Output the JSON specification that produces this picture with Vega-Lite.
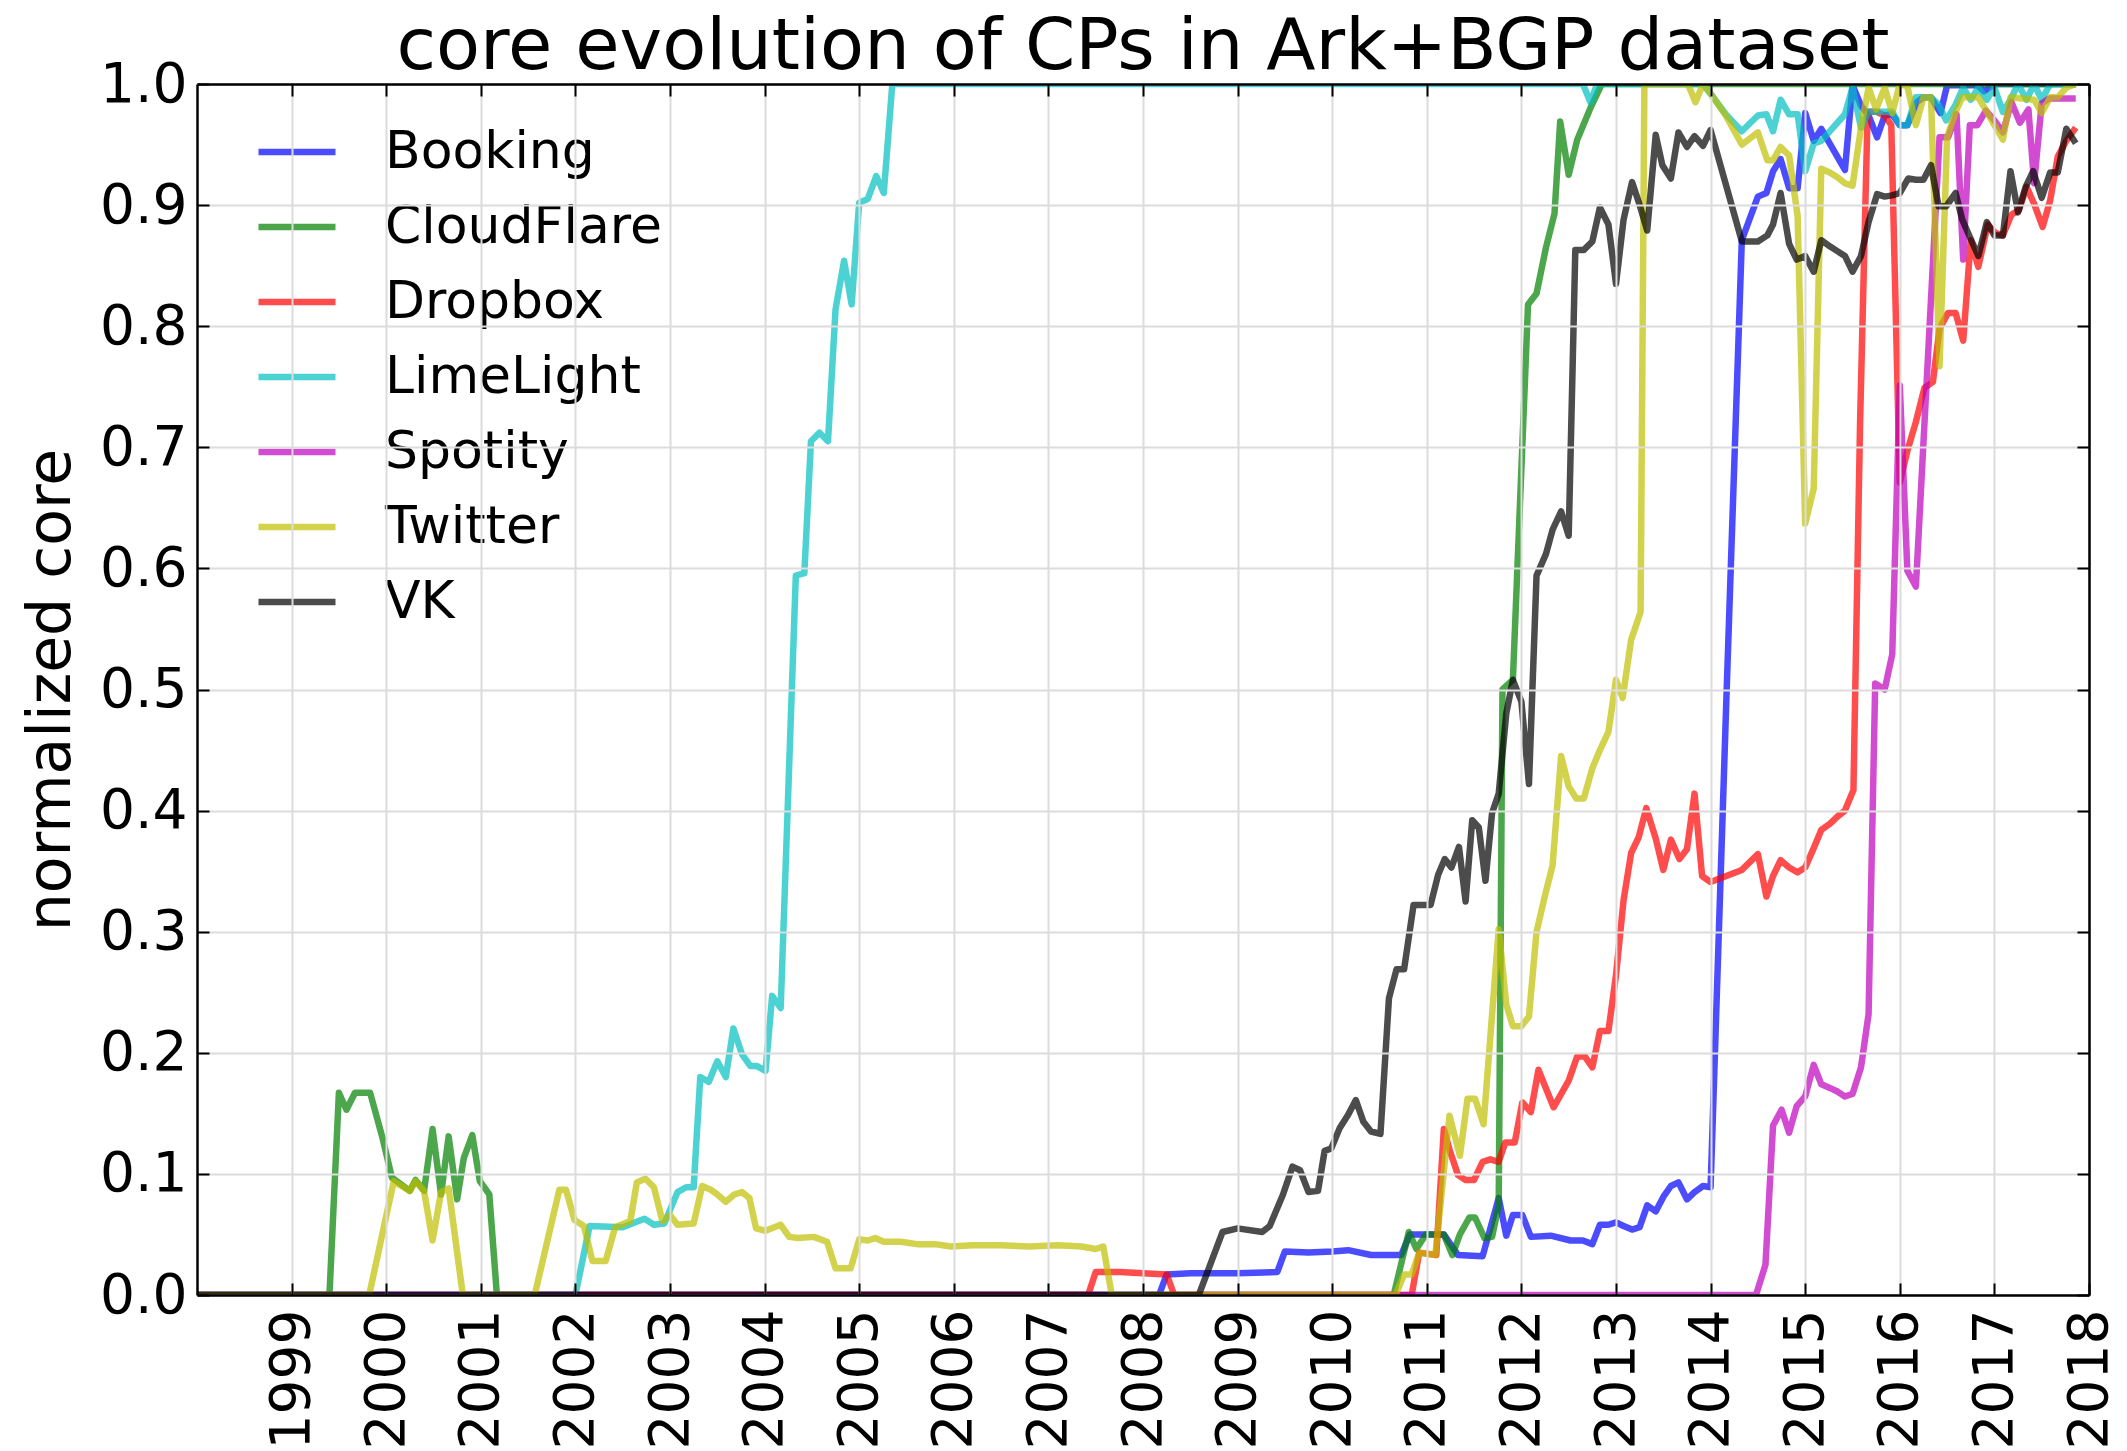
{
"$schema": "https://vega.github.io/schema/vega-lite/v6.json",
"width": 1892,
"height": 1211,
"autosize": "none",
"padding": {"left": 197, "top": 84, "right": 38, "bottom": 156},
"background": "white",
"title": {"text": "core evolution of CPs in Ark+BGP dataset", "fontSize": 72, "font": "DejaVu Sans", "fontWeight": "normal", "color": "black", "offset": 0, "dy": 27, "anchor": "middle", "frame": "group"},
"data": {"values": [
{"cp":"Booking","year":1998,"core":0},{"cp":"Booking","year":2008.17,"core":0},{"cp":"Booking","year":2008.25,"core":0.017},{"cp":"Booking","year":2008.5,"core":0.018},{"cp":"Booking","year":2008.75,"core":0.018},{"cp":"Booking","year":2009.0,"core":0.018},{"cp":"Booking","year":2009.42,"core":0.019},{"cp":"Booking","year":2009.5,"core":0.036},{"cp":"Booking","year":2009.75,"core":0.035},{"cp":"Booking","year":2010.0,"core":0.036},{"cp":"Booking","year":2010.17,"core":0.037},{"cp":"Booking","year":2010.41,"core":0.033},{"cp":"Booking","year":2010.73,"core":0.033},{"cp":"Booking","year":2010.82,"core":0.05},{"cp":"Booking","year":2011.18,"core":0.05},{"cp":"Booking","year":2011.33,"core":0.033},{"cp":"Booking","year":2011.59,"core":0.032},{"cp":"Booking","year":2011.76,"core":0.08},{"cp":"Booking","year":2011.84,"core":0.049},{"cp":"Booking","year":2011.91,"core":0.066},{"cp":"Booking","year":2012.01,"core":0.066},{"cp":"Booking","year":2012.1,"core":0.048},{"cp":"Booking","year":2012.31,"core":0.049},{"cp":"Booking","year":2012.52,"core":0.045},{"cp":"Booking","year":2012.65,"core":0.045},{"cp":"Booking","year":2012.75,"core":0.042},{"cp":"Booking","year":2012.83,"core":0.058},{"cp":"Booking","year":2012.92,"core":0.058},{"cp":"Booking","year":2013.0,"core":0.06},{"cp":"Booking","year":2013.08,"core":0.057},{"cp":"Booking","year":2013.17,"core":0.054},{"cp":"Booking","year":2013.25,"core":0.056},{"cp":"Booking","year":2013.33,"core":0.074},{"cp":"Booking","year":2013.42,"core":0.069},{"cp":"Booking","year":2013.5,"core":0.081},{"cp":"Booking","year":2013.58,"core":0.09},{"cp":"Booking","year":2013.66,"core":0.093},{"cp":"Booking","year":2013.75,"core":0.079},{"cp":"Booking","year":2013.83,"core":0.085},{"cp":"Booking","year":2013.92,"core":0.09},{"cp":"Booking","year":2014.0,"core":0.089},{"cp":"Booking","year":2014.17,"core":0.5},{"cp":"Booking","year":2014.33,"core":0.871},{"cp":"Booking","year":2014.41,"core":0.888},{"cp":"Booking","year":2014.5,"core":0.907},{"cp":"Booking","year":2014.59,"core":0.91},{"cp":"Booking","year":2014.66,"core":0.928},{"cp":"Booking","year":2014.74,"core":0.938},{"cp":"Booking","year":2014.83,"core":0.914},{"cp":"Booking","year":2014.92,"core":0.914},{"cp":"Booking","year":2015.0,"core":0.976},{"cp":"Booking","year":2015.09,"core":0.953},{"cp":"Booking","year":2015.17,"core":0.963},{"cp":"Booking","year":2015.42,"core":0.929},{"cp":"Booking","year":2015.5,"core":0.999},{"cp":"Booking","year":2015.59,"core":0.982},{"cp":"Booking","year":2015.67,"core":0.974},{"cp":"Booking","year":2015.76,"core":0.956},{"cp":"Booking","year":2015.84,"core":0.974},{"cp":"Booking","year":2015.92,"core":0.975},{"cp":"Booking","year":2016.0,"core":0.966},{"cp":"Booking","year":2016.08,"core":0.966},{"cp":"Booking","year":2016.18,"core":0.985},{"cp":"Booking","year":2016.25,"core":0.989},{"cp":"Booking","year":2016.33,"core":0.989},{"cp":"Booking","year":2016.43,"core":0.976},{"cp":"Booking","year":2016.5,"core":0.999},{"cp":"Booking","year":2016.82,"core":0.999},{"cp":"Booking","year":2016.89,"core":0.994},{"cp":"Booking","year":2017.0,"core":1.0},{"cp":"Booking","year":2017.86,"core":1.0},
{"cp":"CloudFlare","year":1998,"core":0},{"cp":"CloudFlare","year":1999.4,"core":0},{"cp":"CloudFlare","year":1999.5,"core":0.167},{"cp":"CloudFlare","year":1999.58,"core":0.153},{"cp":"CloudFlare","year":1999.67,"core":0.167},{"cp":"CloudFlare","year":1999.83,"core":0.167},{"cp":"CloudFlare","year":1999.96,"core":0.13},{"cp":"CloudFlare","year":2000.06,"core":0.097},{"cp":"CloudFlare","year":2000.25,"core":0.086},{"cp":"CloudFlare","year":2000.31,"core":0.095},{"cp":"CloudFlare","year":2000.4,"core":0.086},{"cp":"CloudFlare","year":2000.49,"core":0.137},{"cp":"CloudFlare","year":2000.58,"core":0.083},{"cp":"CloudFlare","year":2000.66,"core":0.131},{"cp":"CloudFlare","year":2000.75,"core":0.079},{"cp":"CloudFlare","year":2000.82,"core":0.113},{"cp":"CloudFlare","year":2000.91,"core":0.132},{"cp":"CloudFlare","year":2000.99,"core":0.094},{"cp":"CloudFlare","year":2001.09,"core":0.083},{"cp":"CloudFlare","year":2001.17,"core":0},{"cp":"CloudFlare","year":2010.65,"core":0},{"cp":"CloudFlare","year":2010.81,"core":0.052},{"cp":"CloudFlare","year":2010.89,"core":0.038},{"cp":"CloudFlare","year":2010.99,"core":0.05},{"cp":"CloudFlare","year":2011.18,"core":0.05},{"cp":"CloudFlare","year":2011.27,"core":0.033},{"cp":"CloudFlare","year":2011.35,"core":0.05},{"cp":"CloudFlare","year":2011.45,"core":0.064},{"cp":"CloudFlare","year":2011.51,"core":0.064},{"cp":"CloudFlare","year":2011.61,"core":0.047},{"cp":"CloudFlare","year":2011.69,"core":0.048},{"cp":"CloudFlare","year":2011.76,"core":0.074},{"cp":"CloudFlare","year":2011.8,"core":0.5},{"cp":"CloudFlare","year":2011.91,"core":0.508},{"cp":"CloudFlare","year":2012.07,"core":0.818},{"cp":"CloudFlare","year":2012.16,"core":0.827},{"cp":"CloudFlare","year":2012.26,"core":0.865},{"cp":"CloudFlare","year":2012.35,"core":0.893},{"cp":"CloudFlare","year":2012.41,"core":0.969},{"cp":"CloudFlare","year":2012.5,"core":0.925},{"cp":"CloudFlare","year":2012.59,"core":0.954},{"cp":"CloudFlare","year":2012.74,"core":0.982},{"cp":"CloudFlare","year":2012.85,"core":1.0},{"cp":"CloudFlare","year":2017.86,"core":1.0},
{"cp":"Dropbox","year":1998,"core":0},{"cp":"Dropbox","year":2007.42,"core":0},{"cp":"Dropbox","year":2007.5,"core":0.019},{"cp":"Dropbox","year":2007.75,"core":0.019},{"cp":"Dropbox","year":2008.0,"core":0.018},{"cp":"Dropbox","year":2008.25,"core":0.017},{"cp":"Dropbox","year":2008.33,"core":0},{"cp":"Dropbox","year":2010.84,"core":0},{"cp":"Dropbox","year":2010.92,"core":0.035},{"cp":"Dropbox","year":2011.1,"core":0.033},{"cp":"Dropbox","year":2011.18,"core":0.137},{"cp":"Dropbox","year":2011.24,"core":0.12},{"cp":"Dropbox","year":2011.33,"core":0.099},{"cp":"Dropbox","year":2011.41,"core":0.095},{"cp":"Dropbox","year":2011.5,"core":0.095},{"cp":"Dropbox","year":2011.59,"core":0.11},{"cp":"Dropbox","year":2011.67,"core":0.112},{"cp":"Dropbox","year":2011.76,"core":0.11},{"cp":"Dropbox","year":2011.83,"core":0.126},{"cp":"Dropbox","year":2011.93,"core":0.126},{"cp":"Dropbox","year":2012.01,"core":0.159},{"cp":"Dropbox","year":2012.1,"core":0.151},{"cp":"Dropbox","year":2012.18,"core":0.186},{"cp":"Dropbox","year":2012.34,"core":0.155},{"cp":"Dropbox","year":2012.5,"core":0.177},{"cp":"Dropbox","year":2012.59,"core":0.197},{"cp":"Dropbox","year":2012.67,"core":0.197},{"cp":"Dropbox","year":2012.75,"core":0.188},{"cp":"Dropbox","year":2012.83,"core":0.218},{"cp":"Dropbox","year":2012.92,"core":0.218},{"cp":"Dropbox","year":2013.0,"core":0.264},{"cp":"Dropbox","year":2013.08,"core":0.326},{"cp":"Dropbox","year":2013.16,"core":0.365},{"cp":"Dropbox","year":2013.24,"core":0.378},{"cp":"Dropbox","year":2013.32,"core":0.402},{"cp":"Dropbox","year":2013.42,"core":0.377},{"cp":"Dropbox","year":2013.5,"core":0.351},{"cp":"Dropbox","year":2013.58,"core":0.376},{"cp":"Dropbox","year":2013.67,"core":0.36},{"cp":"Dropbox","year":2013.75,"core":0.368},{"cp":"Dropbox","year":2013.83,"core":0.414},{"cp":"Dropbox","year":2013.91,"core":0.346},{"cp":"Dropbox","year":2014.0,"core":0.341},{"cp":"Dropbox","year":2014.33,"core":0.351},{"cp":"Dropbox","year":2014.5,"core":0.364},{"cp":"Dropbox","year":2014.59,"core":0.329},{"cp":"Dropbox","year":2014.66,"core":0.346},{"cp":"Dropbox","year":2014.74,"core":0.359},{"cp":"Dropbox","year":2014.83,"core":0.353},{"cp":"Dropbox","year":2014.92,"core":0.349},{"cp":"Dropbox","year":2015.0,"core":0.353},{"cp":"Dropbox","year":2015.09,"core":0.369},{"cp":"Dropbox","year":2015.17,"core":0.384},{"cp":"Dropbox","year":2015.26,"core":0.389},{"cp":"Dropbox","year":2015.34,"core":0.395},{"cp":"Dropbox","year":2015.42,"core":0.4},{"cp":"Dropbox","year":2015.51,"core":0.417},{"cp":"Dropbox","year":2015.58,"core":0.72},{"cp":"Dropbox","year":2015.66,"core":0.977},{"cp":"Dropbox","year":2015.75,"core":0.977},{"cp":"Dropbox","year":2015.84,"core":0.974},{"cp":"Dropbox","year":2015.91,"core":0.966},{"cp":"Dropbox","year":2016.0,"core":0.671},{"cp":"Dropbox","year":2016.08,"core":0.697},{"cp":"Dropbox","year":2016.17,"core":0.721},{"cp":"Dropbox","year":2016.26,"core":0.749},{"cp":"Dropbox","year":2016.35,"core":0.754},{"cp":"Dropbox","year":2016.42,"core":0.798},{"cp":"Dropbox","year":2016.51,"core":0.811},{"cp":"Dropbox","year":2016.59,"core":0.811},{"cp":"Dropbox","year":2016.67,"core":0.788},{"cp":"Dropbox","year":2016.75,"core":0.871},{"cp":"Dropbox","year":2016.83,"core":0.849},{"cp":"Dropbox","year":2016.93,"core":0.884},{"cp":"Dropbox","year":2017.01,"core":0.877},{"cp":"Dropbox","year":2017.09,"core":0.875},{"cp":"Dropbox","year":2017.18,"core":0.892},{"cp":"Dropbox","year":2017.26,"core":0.896},{"cp":"Dropbox","year":2017.34,"core":0.915},{"cp":"Dropbox","year":2017.42,"core":0.901},{"cp":"Dropbox","year":2017.51,"core":0.882},{"cp":"Dropbox","year":2017.59,"core":0.904},{"cp":"Dropbox","year":2017.67,"core":0.94},{"cp":"Dropbox","year":2017.76,"core":0.953},{"cp":"Dropbox","year":2017.86,"core":0.964},
{"cp":"LimeLight","year":1998,"core":0},{"cp":"LimeLight","year":2002.0,"core":0},{"cp":"LimeLight","year":2002.15,"core":0.057},{"cp":"LimeLight","year":2002.5,"core":0.056},{"cp":"LimeLight","year":2002.73,"core":0.063},{"cp":"LimeLight","year":2002.83,"core":0.058},{"cp":"LimeLight","year":2002.94,"core":0.059},{"cp":"LimeLight","year":2003.08,"core":0.085},{"cp":"LimeLight","year":2003.17,"core":0.089},{"cp":"LimeLight","year":2003.25,"core":0.089},{"cp":"LimeLight","year":2003.32,"core":0.18},{"cp":"LimeLight","year":2003.41,"core":0.176},{"cp":"LimeLight","year":2003.5,"core":0.193},{"cp":"LimeLight","year":2003.59,"core":0.18},{"cp":"LimeLight","year":2003.67,"core":0.22},{"cp":"LimeLight","year":2003.76,"core":0.199},{"cp":"LimeLight","year":2003.85,"core":0.189},{"cp":"LimeLight","year":2003.92,"core":0.189},{"cp":"LimeLight","year":2004.01,"core":0.185},{"cp":"LimeLight","year":2004.08,"core":0.247},{"cp":"LimeLight","year":2004.17,"core":0.237},{"cp":"LimeLight","year":2004.33,"core":0.594},{"cp":"LimeLight","year":2004.42,"core":0.596},{"cp":"LimeLight","year":2004.49,"core":0.705},{"cp":"LimeLight","year":2004.58,"core":0.712},{"cp":"LimeLight","year":2004.67,"core":0.705},{"cp":"LimeLight","year":2004.75,"core":0.814},{"cp":"LimeLight","year":2004.84,"core":0.854},{"cp":"LimeLight","year":2004.92,"core":0.818},{"cp":"LimeLight","year":2005.0,"core":0.902},{"cp":"LimeLight","year":2005.09,"core":0.905},{"cp":"LimeLight","year":2005.18,"core":0.924},{"cp":"LimeLight","year":2005.26,"core":0.91},{"cp":"LimeLight","year":2005.35,"core":1.0},{"cp":"LimeLight","year":2012.65,"core":1.0},{"cp":"LimeLight","year":2012.73,"core":0.985},{"cp":"LimeLight","year":2012.8,"core":1.0},{"cp":"LimeLight","year":2013.92,"core":1.0},{"cp":"LimeLight","year":2014.0,"core":0.992},{"cp":"LimeLight","year":2014.16,"core":0.975},{"cp":"LimeLight","year":2014.33,"core":0.961},{"cp":"LimeLight","year":2014.5,"core":0.974},{"cp":"LimeLight","year":2014.59,"core":0.975},{"cp":"LimeLight","year":2014.66,"core":0.961},{"cp":"LimeLight","year":2014.74,"core":0.987},{"cp":"LimeLight","year":2014.83,"core":0.975},{"cp":"LimeLight","year":2014.92,"core":0.975},{"cp":"LimeLight","year":2015.0,"core":0.928},{"cp":"LimeLight","year":2015.09,"core":0.951},{"cp":"LimeLight","year":2015.17,"core":0.953},{"cp":"LimeLight","year":2015.42,"core":0.975},{"cp":"LimeLight","year":2015.5,"core":0.997},{"cp":"LimeLight","year":2015.59,"core":0.964},{"cp":"LimeLight","year":2015.67,"core":0.977},{"cp":"LimeLight","year":2015.92,"core":0.977},{"cp":"LimeLight","year":2016.0,"core":0.966},{"cp":"LimeLight","year":2016.08,"core":0.966},{"cp":"LimeLight","year":2016.17,"core":0.989},{"cp":"LimeLight","year":2016.33,"core":0.989},{"cp":"LimeLight","year":2016.41,"core":0.983},{"cp":"LimeLight","year":2016.49,"core":0.97},{"cp":"LimeLight","year":2016.59,"core":0.983},{"cp":"LimeLight","year":2016.67,"core":0.997},{"cp":"LimeLight","year":2016.75,"core":0.987},{"cp":"LimeLight","year":2016.83,"core":0.997},{"cp":"LimeLight","year":2016.92,"core":0.987},{"cp":"LimeLight","year":2017.0,"core":0.997},{"cp":"LimeLight","year":2017.09,"core":0.977},{"cp":"LimeLight","year":2017.17,"core":0.987},{"cp":"LimeLight","year":2017.25,"core":1.0},{"cp":"LimeLight","year":2017.34,"core":0.987},{"cp":"LimeLight","year":2017.42,"core":1.0},{"cp":"LimeLight","year":2017.5,"core":0.987},{"cp":"LimeLight","year":2017.59,"core":1.0},{"cp":"LimeLight","year":2017.86,"core":1.0},
{"cp":"Spotity","year":1998,"core":0},{"cp":"Spotity","year":2014.48,"core":0},{"cp":"Spotity","year":2014.58,"core":0.025},{"cp":"Spotity","year":2014.66,"core":0.14},{"cp":"Spotity","year":2014.75,"core":0.153},{"cp":"Spotity","year":2014.83,"core":0.134},{"cp":"Spotity","year":2014.91,"core":0.156},{"cp":"Spotity","year":2015.0,"core":0.164},{"cp":"Spotity","year":2015.09,"core":0.19},{"cp":"Spotity","year":2015.17,"core":0.174},{"cp":"Spotity","year":2015.26,"core":0.171},{"cp":"Spotity","year":2015.34,"core":0.168},{"cp":"Spotity","year":2015.42,"core":0.164},{"cp":"Spotity","year":2015.5,"core":0.166},{"cp":"Spotity","year":2015.59,"core":0.188},{"cp":"Spotity","year":2015.67,"core":0.232},{"cp":"Spotity","year":2015.74,"core":0.505},{"cp":"Spotity","year":2015.84,"core":0.5},{"cp":"Spotity","year":2015.92,"core":0.529},{"cp":"Spotity","year":2016.0,"core":0.751},{"cp":"Spotity","year":2016.08,"core":0.598},{"cp":"Spotity","year":2016.17,"core":0.585},{"cp":"Spotity","year":2016.42,"core":0.956},{"cp":"Spotity","year":2016.51,"core":0.956},{"cp":"Spotity","year":2016.6,"core":0.975},{"cp":"Spotity","year":2016.67,"core":0.855},{"cp":"Spotity","year":2016.74,"core":0.966},{"cp":"Spotity","year":2016.82,"core":0.966},{"cp":"Spotity","year":2016.91,"core":0.978},{"cp":"Spotity","year":2017.0,"core":0.97},{"cp":"Spotity","year":2017.09,"core":0.96},{"cp":"Spotity","year":2017.18,"core":0.985},{"cp":"Spotity","year":2017.27,"core":0.968},{"cp":"Spotity","year":2017.36,"core":0.979},{"cp":"Spotity","year":2017.42,"core":0.918},{"cp":"Spotity","year":2017.5,"core":0.984},{"cp":"Spotity","year":2017.58,"core":0.988},{"cp":"Spotity","year":2017.86,"core":0.988},
{"cp":"Twitter","year":1998,"core":0},{"cp":"Twitter","year":1999.82,"core":0},{"cp":"Twitter","year":2000.08,"core":0.094},{"cp":"Twitter","year":2000.25,"core":0.086},{"cp":"Twitter","year":2000.31,"core":0.094},{"cp":"Twitter","year":2000.4,"core":0.086},{"cp":"Twitter","year":2000.49,"core":0.045},{"cp":"Twitter","year":2000.58,"core":0.085},{"cp":"Twitter","year":2000.66,"core":0.088},{"cp":"Twitter","year":2000.81,"core":0},{"cp":"Twitter","year":2001.57,"core":0},{"cp":"Twitter","year":2001.83,"core":0.087},{"cp":"Twitter","year":2001.9,"core":0.087},{"cp":"Twitter","year":2001.99,"core":0.062},{"cp":"Twitter","year":2002.09,"core":0.057},{"cp":"Twitter","year":2002.18,"core":0.028},{"cp":"Twitter","year":2002.32,"core":0.028},{"cp":"Twitter","year":2002.42,"core":0.056},{"cp":"Twitter","year":2002.58,"core":0.061},{"cp":"Twitter","year":2002.65,"core":0.093},{"cp":"Twitter","year":2002.74,"core":0.096},{"cp":"Twitter","year":2002.83,"core":0.089},{"cp":"Twitter","year":2002.92,"core":0.061},{"cp":"Twitter","year":2003.0,"core":0.066},{"cp":"Twitter","year":2003.08,"core":0.058},{"cp":"Twitter","year":2003.25,"core":0.059},{"cp":"Twitter","year":2003.34,"core":0.09},{"cp":"Twitter","year":2003.43,"core":0.087},{"cp":"Twitter","year":2003.5,"core":0.083},{"cp":"Twitter","year":2003.59,"core":0.077},{"cp":"Twitter","year":2003.68,"core":0.083},{"cp":"Twitter","year":2003.76,"core":0.085},{"cp":"Twitter","year":2003.84,"core":0.08},{"cp":"Twitter","year":2003.91,"core":0.055},{"cp":"Twitter","year":2004.01,"core":0.053},{"cp":"Twitter","year":2004.17,"core":0.058},{"cp":"Twitter","year":2004.26,"core":0.048},{"cp":"Twitter","year":2004.35,"core":0.047},{"cp":"Twitter","year":2004.52,"core":0.048},{"cp":"Twitter","year":2004.66,"core":0.044},{"cp":"Twitter","year":2004.75,"core":0.022},{"cp":"Twitter","year":2004.91,"core":0.022},{"cp":"Twitter","year":2005.0,"core":0.046},{"cp":"Twitter","year":2005.09,"core":0.045},{"cp":"Twitter","year":2005.17,"core":0.047},{"cp":"Twitter","year":2005.26,"core":0.044},{"cp":"Twitter","year":2005.44,"core":0.044},{"cp":"Twitter","year":2005.61,"core":0.042},{"cp":"Twitter","year":2005.8,"core":0.042},{"cp":"Twitter","year":2005.97,"core":0.04},{"cp":"Twitter","year":2006.2,"core":0.041},{"cp":"Twitter","year":2006.5,"core":0.041},{"cp":"Twitter","year":2006.8,"core":0.04},{"cp":"Twitter","year":2007.1,"core":0.041},{"cp":"Twitter","year":2007.35,"core":0.04},{"cp":"Twitter","year":2007.5,"core":0.038},{"cp":"Twitter","year":2007.58,"core":0.04},{"cp":"Twitter","year":2007.67,"core":0},{"cp":"Twitter","year":2010.67,"core":0},{"cp":"Twitter","year":2010.76,"core":0.017},{"cp":"Twitter","year":2010.84,"core":0.017},{"cp":"Twitter","year":2010.92,"core":0.035},{"cp":"Twitter","year":2011.09,"core":0.033},{"cp":"Twitter","year":2011.24,"core":0.148},{"cp":"Twitter","year":2011.35,"core":0.115},{"cp":"Twitter","year":2011.43,"core":0.162},{"cp":"Twitter","year":2011.51,"core":0.162},{"cp":"Twitter","year":2011.6,"core":0.141},{"cp":"Twitter","year":2011.76,"core":0.302},{"cp":"Twitter","year":2011.84,"core":0.24},{"cp":"Twitter","year":2011.91,"core":0.222},{"cp":"Twitter","year":2012.0,"core":0.222},{"cp":"Twitter","year":2012.08,"core":0.23},{"cp":"Twitter","year":2012.16,"core":0.3},{"cp":"Twitter","year":2012.25,"core":0.33},{"cp":"Twitter","year":2012.33,"core":0.355},{"cp":"Twitter","year":2012.42,"core":0.445},{"cp":"Twitter","year":2012.5,"core":0.42},{"cp":"Twitter","year":2012.58,"core":0.41},{"cp":"Twitter","year":2012.66,"core":0.41},{"cp":"Twitter","year":2012.75,"core":0.435},{"cp":"Twitter","year":2012.83,"core":0.45},{"cp":"Twitter","year":2012.92,"core":0.465},{"cp":"Twitter","year":2013.0,"core":0.508},{"cp":"Twitter","year":2013.07,"core":0.493},{"cp":"Twitter","year":2013.16,"core":0.541},{"cp":"Twitter","year":2013.26,"core":0.564},{"cp":"Twitter","year":2013.3,"core":1.0},{"cp":"Twitter","year":2013.76,"core":1.0},{"cp":"Twitter","year":2013.84,"core":0.985},{"cp":"Twitter","year":2013.92,"core":1.0},{"cp":"Twitter","year":2014.0,"core":0.992},{"cp":"Twitter","year":2014.16,"core":0.974},{"cp":"Twitter","year":2014.33,"core":0.95},{"cp":"Twitter","year":2014.5,"core":0.96},{"cp":"Twitter","year":2014.6,"core":0.937},{"cp":"Twitter","year":2014.66,"core":0.937},{"cp":"Twitter","year":2014.74,"core":0.948},{"cp":"Twitter","year":2014.83,"core":0.941},{"cp":"Twitter","year":2014.92,"core":0.891},{"cp":"Twitter","year":2015.0,"core":0.637},{"cp":"Twitter","year":2015.09,"core":0.666},{"cp":"Twitter","year":2015.17,"core":0.93},{"cp":"Twitter","year":2015.26,"core":0.927},{"cp":"Twitter","year":2015.34,"core":0.923},{"cp":"Twitter","year":2015.42,"core":0.918},{"cp":"Twitter","year":2015.5,"core":0.916},{"cp":"Twitter","year":2015.59,"core":0.964},{"cp":"Twitter","year":2015.67,"core":0.997},{"cp":"Twitter","year":2015.75,"core":0.979},{"cp":"Twitter","year":2015.84,"core":0.997},{"cp":"Twitter","year":2015.92,"core":0.976},{"cp":"Twitter","year":2016.0,"core":1.0},{"cp":"Twitter","year":2016.08,"core":0.998},{"cp":"Twitter","year":2016.17,"core":0.966},{"cp":"Twitter","year":2016.25,"core":0.989},{"cp":"Twitter","year":2016.33,"core":0.989},{"cp":"Twitter","year":2016.42,"core":0.767},{"cp":"Twitter","year":2016.5,"core":0.956},{"cp":"Twitter","year":2016.59,"core":0.977},{"cp":"Twitter","year":2016.66,"core":0.989},{"cp":"Twitter","year":2016.83,"core":0.989},{"cp":"Twitter","year":2016.92,"core":0.977},{"cp":"Twitter","year":2017.0,"core":0.966},{"cp":"Twitter","year":2017.09,"core":0.954},{"cp":"Twitter","year":2017.17,"core":0.989},{"cp":"Twitter","year":2017.42,"core":0.987},{"cp":"Twitter","year":2017.5,"core":0.976},{"cp":"Twitter","year":2017.59,"core":0.989},{"cp":"Twitter","year":2017.67,"core":0.989},{"cp":"Twitter","year":2017.76,"core":0.997},{"cp":"Twitter","year":2017.86,"core":1.0},
{"cp":"VK","year":1998,"core":0},{"cp":"VK","year":2008.59,"core":0},{"cp":"VK","year":2008.84,"core":0.052},{"cp":"VK","year":2009.0,"core":0.055},{"cp":"VK","year":2009.26,"core":0.052},{"cp":"VK","year":2009.34,"core":0.057},{"cp":"VK","year":2009.48,"core":0.083},{"cp":"VK","year":2009.58,"core":0.106},{"cp":"VK","year":2009.66,"core":0.103},{"cp":"VK","year":2009.75,"core":0.085},{"cp":"VK","year":2009.85,"core":0.086},{"cp":"VK","year":2009.92,"core":0.119},{"cp":"VK","year":2009.99,"core":0.121},{"cp":"VK","year":2010.08,"core":0.138},{"cp":"VK","year":2010.17,"core":0.149},{"cp":"VK","year":2010.25,"core":0.161},{"cp":"VK","year":2010.33,"core":0.143},{"cp":"VK","year":2010.41,"core":0.135},{"cp":"VK","year":2010.51,"core":0.133},{"cp":"VK","year":2010.6,"core":0.245},{"cp":"VK","year":2010.68,"core":0.269},{"cp":"VK","year":2010.76,"core":0.269},{"cp":"VK","year":2010.86,"core":0.322},{"cp":"VK","year":2010.96,"core":0.322},{"cp":"VK","year":2011.04,"core":0.322},{"cp":"VK","year":2011.12,"core":0.347},{"cp":"VK","year":2011.19,"core":0.36},{"cp":"VK","year":2011.26,"core":0.353},{"cp":"VK","year":2011.34,"core":0.37},{"cp":"VK","year":2011.41,"core":0.325},{"cp":"VK","year":2011.48,"core":0.392},{"cp":"VK","year":2011.55,"core":0.386},{"cp":"VK","year":2011.62,"core":0.342},{"cp":"VK","year":2011.69,"core":0.398},{"cp":"VK","year":2011.76,"core":0.414},{"cp":"VK","year":2011.84,"core":0.48},{"cp":"VK","year":2011.91,"core":0.508},{"cp":"VK","year":2012.0,"core":0.49},{"cp":"VK","year":2012.08,"core":0.422},{"cp":"VK","year":2012.16,"core":0.594},{"cp":"VK","year":2012.26,"core":0.612},{"cp":"VK","year":2012.33,"core":0.632},{"cp":"VK","year":2012.42,"core":0.647},{"cp":"VK","year":2012.5,"core":0.627},{"cp":"VK","year":2012.57,"core":0.863},{"cp":"VK","year":2012.66,"core":0.863},{"cp":"VK","year":2012.75,"core":0.87},{"cp":"VK","year":2012.83,"core":0.898},{"cp":"VK","year":2012.92,"core":0.884},{"cp":"VK","year":2013.0,"core":0.835},{"cp":"VK","year":2013.08,"core":0.888},{"cp":"VK","year":2013.17,"core":0.919},{"cp":"VK","year":2013.25,"core":0.9},{"cp":"VK","year":2013.33,"core":0.879},{"cp":"VK","year":2013.42,"core":0.958},{"cp":"VK","year":2013.49,"core":0.933},{"cp":"VK","year":2013.58,"core":0.922},{"cp":"VK","year":2013.66,"core":0.96},{"cp":"VK","year":2013.75,"core":0.948},{"cp":"VK","year":2013.83,"core":0.957},{"cp":"VK","year":2013.92,"core":0.949},{"cp":"VK","year":2014.0,"core":0.962},{"cp":"VK","year":2014.33,"core":0.87},{"cp":"VK","year":2014.5,"core":0.87},{"cp":"VK","year":2014.6,"core":0.875},{"cp":"VK","year":2014.66,"core":0.884},{"cp":"VK","year":2014.74,"core":0.91},{"cp":"VK","year":2014.83,"core":0.868},{"cp":"VK","year":2014.91,"core":0.855},{"cp":"VK","year":2015.0,"core":0.858},{"cp":"VK","year":2015.09,"core":0.845},{"cp":"VK","year":2015.17,"core":0.871},{"cp":"VK","year":2015.26,"core":0.866},{"cp":"VK","year":2015.34,"core":0.862},{"cp":"VK","year":2015.42,"core":0.858},{"cp":"VK","year":2015.5,"core":0.845},{"cp":"VK","year":2015.59,"core":0.858},{"cp":"VK","year":2015.67,"core":0.886},{"cp":"VK","year":2015.76,"core":0.909},{"cp":"VK","year":2015.84,"core":0.907},{"cp":"VK","year":2015.92,"core":0.908},{"cp":"VK","year":2016.0,"core":0.91},{"cp":"VK","year":2016.09,"core":0.922},{"cp":"VK","year":2016.17,"core":0.921},{"cp":"VK","year":2016.25,"core":0.921},{"cp":"VK","year":2016.33,"core":0.933},{"cp":"VK","year":2016.41,"core":0.899},{"cp":"VK","year":2016.49,"core":0.899},{"cp":"VK","year":2016.59,"core":0.91},{"cp":"VK","year":2016.66,"core":0.888},{"cp":"VK","year":2016.75,"core":0.872},{"cp":"VK","year":2016.83,"core":0.858},{"cp":"VK","year":2016.92,"core":0.886},{"cp":"VK","year":2017.0,"core":0.875},{"cp":"VK","year":2017.09,"core":0.875},{"cp":"VK","year":2017.17,"core":0.928},{"cp":"VK","year":2017.25,"core":0.894},{"cp":"VK","year":2017.33,"core":0.915},{"cp":"VK","year":2017.41,"core":0.928},{"cp":"VK","year":2017.5,"core":0.906},{"cp":"VK","year":2017.59,"core":0.927},{"cp":"VK","year":2017.67,"core":0.927},{"cp":"VK","year":2017.76,"core":0.963},{"cp":"VK","year":2017.86,"core":0.951}
]},
"layer": [
{
"mark": {"type": "line", "strokeWidth": 6.5, "strokeOpacity": 0.7, "clip": true, "strokeJoin": "round"},
"encoding": {
"x": {"field": "year", "type": "quantitative", "scale": {"domain": [1998, 2018], "nice": false, "zero": false},
"axis": {"orient": "bottom", "values": [1999,2000,2001,2002,2003,2004,2005,2006,2007,2008,2009,2010,2011,2012,2013,2014,2015,2016,2017,2018], "format": "d", "labelAngle": 270, "labelFontSize": 55, "labelPadding": 26, "tickSize": -12, "title": null, "grid": true, "zindex": 1, "labelFlush": false, "labelOverlap": false, "labelBound": false}},
"y": {"field": "core", "type": "quantitative", "scale": {"domain": [0, 1], "nice": false},
"axis": {"orient": "left", "values": [0,0.1,0.2,0.3,0.4,0.5,0.6,0.7,0.8,0.9,1.0], "format": ".1f", "labelFontSize": 55, "labelPadding": 22, "tickSize": -12, "title": "normalized core", "titleFontSize": 60, "titleFontWeight": "normal", "titlePadding": 17, "grid": true, "zindex": 1, "labelFlush": false, "labelOverlap": false, "labelBound": false}},
"color": {"field": "cp", "type": "nominal", "scale": {"domain": ["Booking","CloudFlare","Dropbox","LimeLight","Spotity","Twitter","VK"], "range": ["#0000ff","#008000","#ff0000","#00bfbf","#bf00bf","#bfbf00","#000000"]},
"legend": {"orient": "none", "legendX": 58, "legendY": 26, "title": null, "symbolType": "stroke", "symbolSize": 5929, "symbolStrokeWidth": 6.5, "symbolOpacity": 0.7, "labelFontSize": 52, "labelOffset": 46, "rowPadding": 7, "padding": 0, "labelLimit": 500}}
}
},
{
"mark": {"type": "line", "opacity": 0, "strokeOpacity": 0},
"encoding": {
"x": {"field": "year", "type": "quantitative", "scale": {"domain": [1998, 2018], "nice": false, "zero": false},
"axis": {"orient": "top", "values": [1999,2000,2001,2002,2003,2004,2005,2006,2007,2008,2009,2010,2011,2012,2013,2014,2015,2016,2017,2018], "labels": false, "tickSize": -12, "title": null, "grid": false, "zindex": 1}},
"y": {"field": "core", "type": "quantitative", "scale": {"domain": [0, 1], "nice": false},
"axis": {"orient": "right", "values": [0,0.1,0.2,0.3,0.4,0.5,0.6,0.7,0.8,0.9,1.0], "labels": false, "tickSize": -12, "title": null, "grid": false, "zindex": 1}},
"detail": {"field": "cp", "type": "nominal"}
}
}
],
"resolve": {"axis": {"x": "independent", "y": "independent"}},
"config": {
"font": "DejaVu Sans",
"view": {"stroke": null},
"axis": {"labelFont": "DejaVu Sans", "labelColor": "black", "titleFont": "DejaVu Sans", "titleColor": "black", "domainColor": "black", "domainWidth": 2.5, "tickColor": "black", "tickWidth": 2, "gridColor": "#dcdcdc", "gridWidth": 2},
"legend": {"labelFont": "DejaVu Sans", "labelColor": "black"}
}
}
